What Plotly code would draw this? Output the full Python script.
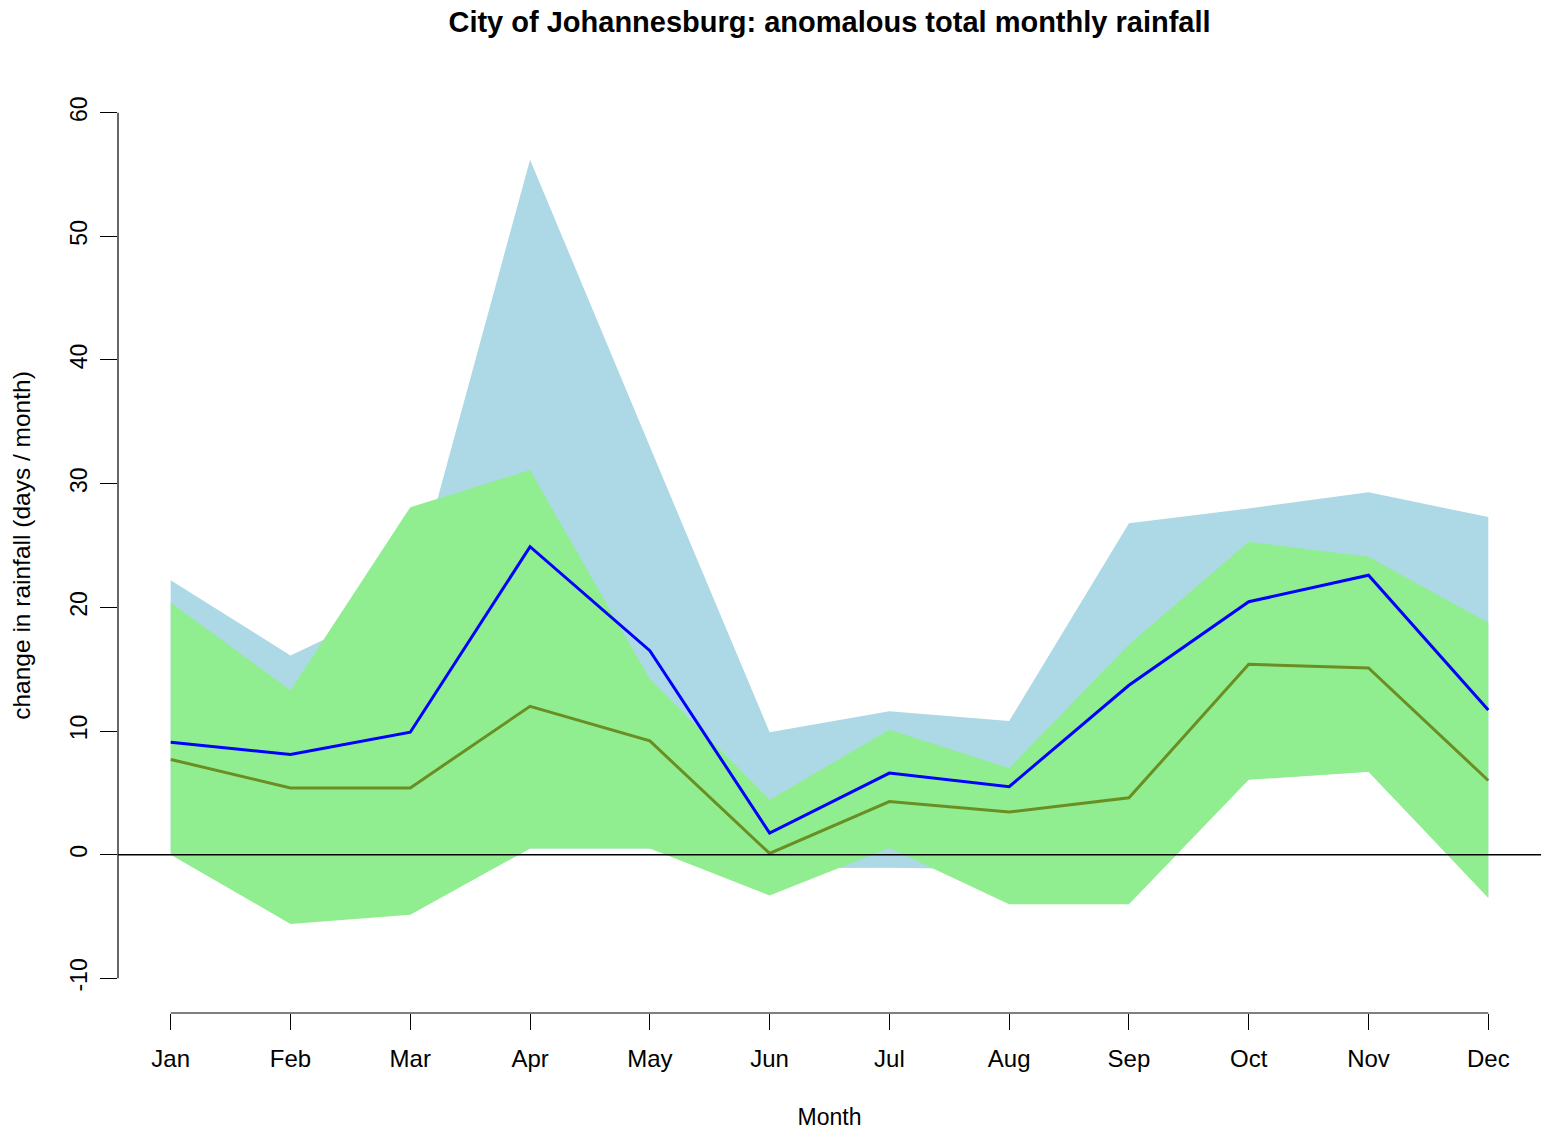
import plotly.graph_objects as go

months = ["Jan", "Feb", "Mar", "Apr", "May", "Jun", "Jul", "Aug", "Sep", "Oct", "Nov", "Dec"]
month_pos = list(range(1, 13))

# light blue envelope
blue_upper = [22.2, 16.1, 20.7, 56.2, 33.0, 9.9, 11.6, 10.8, 26.8, 28.0, 29.3, 27.3]
blue_lower = [0.2, -5.4, -4.7, 0.5, 0.5, -1.1, -1.05, -1.2, -3.8, 6.1, 6.7, -3.4]
# light green envelope
green_upper = [20.4, 13.3, 28.1, 31.1, 14.2, 4.45, 10.1, 7.0, 17.0, 25.3, 24.1, 18.75]
green_lower = [0.0, -5.6, -4.85, 0.5, 0.5, -3.3, 0.55, -4.0, -4.0, 6.05, 6.7, -3.5]
# lines
blue_line = [9.1, 8.1, 9.9, 24.9, 16.5, 1.75, 6.6, 5.5, 13.7, 20.45, 22.6, 11.7]
olive_line = [7.7, 5.4, 5.4, 12.0, 9.2, 0.1, 4.3, 3.45, 4.6, 15.4, 15.1, 6.0]

y_ticks = [-10, 0, 10, 20, 30, 40, 50, 60]
y_ticktext = ["-10", "0", "10", "20", "30", "40", "50", "60"]

FONT = "Liberation Sans, Arial, sans-serif"

fig = go.Figure()

fig.add_trace(go.Scatter(
    x=month_pos + month_pos[::-1],
    y=blue_upper + blue_lower[::-1],
    fill="toself", fillcolor="#ADD8E6", mode="none", hoverinfo="skip", showlegend=False,
))
fig.add_trace(go.Scatter(
    x=month_pos + month_pos[::-1],
    y=green_upper + green_lower[::-1],
    fill="toself", fillcolor="#90EE90", mode="none", hoverinfo="skip", showlegend=False,
))
fig.add_trace(go.Scatter(
    x=month_pos, y=blue_line, mode="lines",
    line=dict(color="#0000FF", width=3), showlegend=False,
))
fig.add_trace(go.Scatter(
    x=month_pos, y=olive_line, mode="lines",
    line=dict(color="#6B8E23", width=3), showlegend=False,
))

shapes = [
    # zero line
    dict(type="line", xref="paper", yref="y", x0=0, x1=1, y0=0, y1=0,
         line=dict(color="black", width=1.5), layer="above"),
    # R-style y axis line (only over the tick range)
    dict(type="line", xref="paper", yref="y", x0=0, x1=0, y0=min(y_ticks), y1=max(y_ticks),
         line=dict(color="black", width=1.2), layer="above"),
    # R-style x axis line
    dict(type="line", xref="x", yref="paper", x0=month_pos[0], x1=month_pos[-1], y0=0, y1=0,
         line=dict(color="black", width=1.2), layer="above"),
]

fig.update_layout(
    width=1543, height=1130,
    margin=dict(l=118, r=2, t=78, b=117),
    plot_bgcolor="white", paper_bgcolor="white",
    font=dict(family=FONT, size=24, color="black"),
    title=dict(
        text="<b>City of Johannesburg: anomalous total monthly rainfall</b>",
        x=0.5, xref="paper", xanchor="center",
        y=1 - 22 / 1130, yref="container", yanchor="middle",
        font=dict(family=FONT, size=29, color="black"),
    ),
    shapes=shapes,
    xaxis=dict(
        range=[0.56, 12.44], tickmode="array", tickvals=month_pos, ticktext=months,
        showgrid=False, zeroline=False, showline=False,
        ticks="outside", ticklen=16, tickwidth=1.2, tickcolor="black",
        ticklabelstandoff=8, tickfont=dict(size=24),
        title=dict(text="Month", standoff=38, font=dict(size=23)),
    ),
    yaxis=dict(
        range=[-12.8, 62.8], tickmode="array", tickvals=y_ticks, ticktext=y_ticktext,
        showgrid=False, zeroline=False, showline=False,
        ticks="outside", ticklen=17, tickwidth=1.2, tickcolor="black",
        tickangle=-90, ticklabelstandoff=4, tickfont=dict(size=23),
        title=dict(text="change in rainfall (days / month)", standoff=28, font=dict(size=24.5)),
    ),
)

fig.write_html("out.html", config={"displayModeBar": False},
               post_script="document.body.style.margin='0px';")
